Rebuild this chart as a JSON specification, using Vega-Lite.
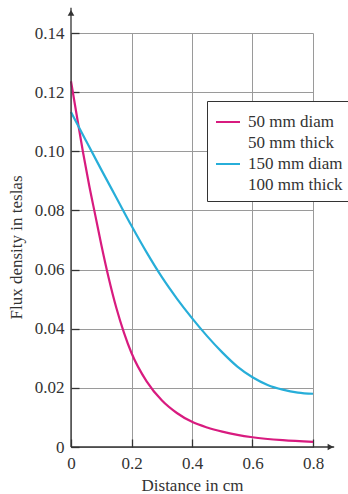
{
  "$schema": "https://vega.github.io/schema/vega-lite/v6.json",
  "width": 242,
  "height": 414,
  "autosize": "none",
  "padding": {"left": 71, "top": 33, "right": 35, "bottom": 47},
  "background": "white",
  "config": {
    "view": {"stroke": null},
    "font": "Liberation Serif",
    "axis": {
      "labelFont": "Liberation Serif",
      "labelFontSize": 17,
      "labelColor": "#333",
      "titleFont": "Liberation Serif",
      "titleFontSize": 17,
      "titleFontWeight": "normal",
      "titleColor": "#333",
      "gridColor": "#9a9a9a",
      "gridWidth": 1,
      "gridOpacity": 1,
      "domain": false,
      "tickColor": "#333",
      "tickWidth": 1.3,
      "tickSize": -8,
      "labelFlush": false
    },
    "legend": {
      "labelFont": "Liberation Serif",
      "labelFontSize": 17,
      "labelColor": "#333"
    }
  },
  "datasets": {
    "curves": [
      {"d": 0.0, "b": 0.1237, "s": "50 mm diam"},
      {"d": 0.02, "b": 0.1115, "s": "50 mm diam"},
      {"d": 0.04, "b": 0.0995, "s": "50 mm diam"},
      {"d": 0.06, "b": 0.0885, "s": "50 mm diam"},
      {"d": 0.08, "b": 0.0785, "s": "50 mm diam"},
      {"d": 0.1, "b": 0.0685, "s": "50 mm diam"},
      {"d": 0.125, "b": 0.0570, "s": "50 mm diam"},
      {"d": 0.15, "b": 0.0470, "s": "50 mm diam"},
      {"d": 0.175, "b": 0.0387, "s": "50 mm diam"},
      {"d": 0.2, "b": 0.0318, "s": "50 mm diam"},
      {"d": 0.25, "b": 0.0222, "s": "50 mm diam"},
      {"d": 0.3, "b": 0.0158, "s": "50 mm diam"},
      {"d": 0.35, "b": 0.0115, "s": "50 mm diam"},
      {"d": 0.4, "b": 0.0085, "s": "50 mm diam"},
      {"d": 0.45, "b": 0.0066, "s": "50 mm diam"},
      {"d": 0.5, "b": 0.0052, "s": "50 mm diam"},
      {"d": 0.55, "b": 0.0041, "s": "50 mm diam"},
      {"d": 0.6, "b": 0.0033, "s": "50 mm diam"},
      {"d": 0.7, "b": 0.0023, "s": "50 mm diam"},
      {"d": 0.8, "b": 0.0017, "s": "50 mm diam"},
      {"d": 0.0, "b": 0.1133, "s": "150 mm diam"},
      {"d": 0.05, "b": 0.1035, "s": "150 mm diam"},
      {"d": 0.1, "b": 0.0938, "s": "150 mm diam"},
      {"d": 0.15, "b": 0.0843, "s": "150 mm diam"},
      {"d": 0.2, "b": 0.0748, "s": "150 mm diam"},
      {"d": 0.25, "b": 0.0658, "s": "150 mm diam"},
      {"d": 0.3, "b": 0.0575, "s": "150 mm diam"},
      {"d": 0.35, "b": 0.0502, "s": "150 mm diam"},
      {"d": 0.4, "b": 0.0436, "s": "150 mm diam"},
      {"d": 0.45, "b": 0.0375, "s": "150 mm diam"},
      {"d": 0.5, "b": 0.0320, "s": "150 mm diam"},
      {"d": 0.55, "b": 0.0272, "s": "150 mm diam"},
      {"d": 0.6, "b": 0.0236, "s": "150 mm diam"},
      {"d": 0.65, "b": 0.0210, "s": "150 mm diam"},
      {"d": 0.7, "b": 0.0194, "s": "150 mm diam"},
      {"d": 0.75, "b": 0.0184, "s": "150 mm diam"},
      {"d": 0.8, "b": 0.0180, "s": "150 mm diam"}
    ],
    "axes": [
      {"d": 0, "b": 0, "d2": 0.87, "b2": 0},
      {"d": 0, "b": 0, "d2": 0, "b2": 0.1485}
    ],
    "arrowUp": [{"d": 0, "b": 0.1468}],
    "arrowRight": [{"d": 0.858, "b": 0}]
  },
  "encoding": {
    "x": {
      "field": "d", "type": "quantitative",
      "scale": {"domain": [0, 0.8], "nice": false, "zero": false},
      "axis": {
        "title": "Distance in cm",
        "values": [0, 0.2, 0.4, 0.6, 0.8],
        "labelExpr": "datum.value == 0 ? '0' : format(datum.value, '.1f')",
        "labelPadding": 16,
        "titlePadding": 6,
        "grid": true
      }
    },
    "y": {
      "field": "b", "type": "quantitative",
      "scale": {"domain": [0, 0.14], "nice": false, "zero": false},
      "axis": {
        "title": "Flux density in teslas",
        "values": [0, 0.02, 0.04, 0.06, 0.08, 0.1, 0.12, 0.14],
        "labelExpr": "datum.value == 0 ? '0' : format(datum.value, '.2f')",
        "labelPadding": 15,
        "titlePadding": 9,
        "titleY": 214,
        "grid": true
      }
    }
  },
  "layer": [
    {
      "data": {"name": "curves"},
      "mark": {"type": "line", "strokeWidth": 2.2, "interpolate": "monotone"},
      "encoding": {
        "color": {
          "field": "s", "type": "nominal",
          "scale": {
            "domain": ["50 mm diam", "50 mm thick", "150 mm diam", "100 mm thick"],
            "range": ["#d81b7f", "transparent", "#27aed9", "transparent"]
          },
          "legend": {
            "title": null,
            "orient": "none",
            "legendX": 136,
            "legendY": 68,
            "symbolType": "stroke",
            "symbolSize": 576,
            "symbolStrokeWidth": 2,
            "labelOffset": 7,
            "rowPadding": 0,
            "padding": 8,
            "strokeColor": "#333",
            "fillColor": "white"
          }
        }
      }
    },
    {
      "data": {"name": "axes"},
      "mark": {"type": "rule", "color": "#333", "strokeWidth": 1.3},
      "encoding": {
        "x2": {"field": "d2"},
        "y2": {"field": "b2"}
      }
    },
    {
      "data": {"name": "arrowUp"},
      "mark": {"type": "point", "shape": "triangle-up", "filled": true, "color": "#333", "size": 45, "opacity": 1},
      "encoding": {}
    },
    {
      "data": {"name": "arrowRight"},
      "mark": {"type": "point", "shape": "triangle-right", "filled": true, "color": "#333", "size": 45, "opacity": 1},
      "encoding": {}
    }
  ]
}
